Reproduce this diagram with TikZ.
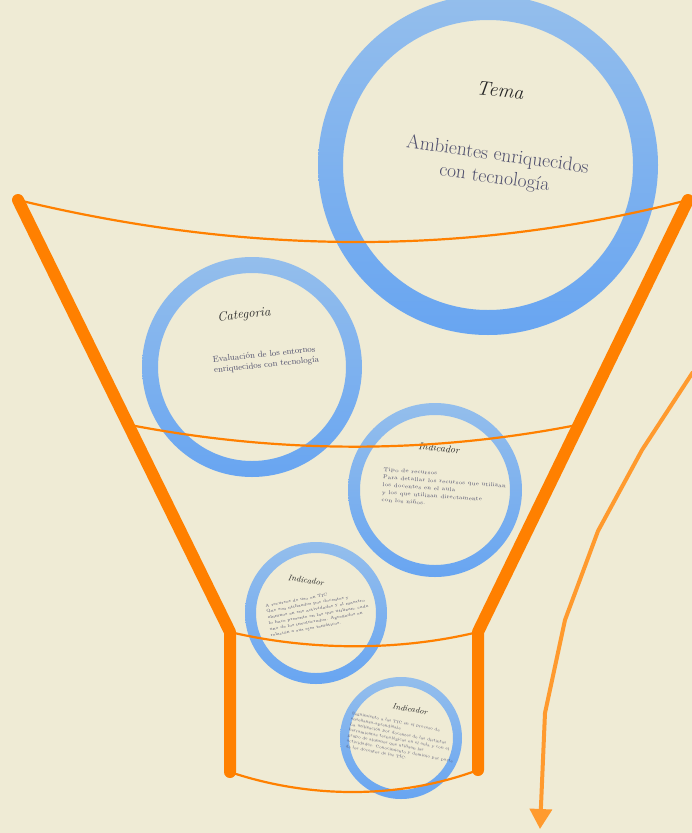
\documentclass[tikz,border=0pt]{standalone}
\usepackage{fontspec}
\usepackage{tikz}
\usetikzlibrary{calc,arrows.meta}

\definecolor{paper}{RGB}{239,235,213}
\definecolor{funnel}{RGB}{255,128,0}
\definecolor{arrowor}{RGB}{255,154,46}
\definecolor{ringtop}{RGB}{148,190,236}
\definecolor{ringbot}{RGB}{104,165,241}
\definecolor{ink}{RGB}{80,80,110}

\tikzset{
  thick funnel/.style={draw=funnel, line width=12pt, line cap=round, line join=round},
  rim/.style={draw=funnel, line width=2.2pt},
  ring/.style={top color=ringtop, bottom color=ringbot, even odd rule},
  head/.style={font=\itshape, text=black!85},
  body/.style={text=ink, align=left, inner sep=0pt}
}

\begin{document}
\begin{tikzpicture}[x=1pt,y=-1pt]
\useasboundingbox (0,0) rectangle (692,833);
\fill[paper] (0,0) rectangle (692,833);

% circles
\coordinate (tema) at (488,165);
\coordinate (cat) at (252,367);
\coordinate (ind1) at (435,490);
\coordinate (ind2) at (316,613);
\coordinate (ind3) at (401,738);
\shade[ring] (tema) circle (170) circle (145);
\shade[ring] (cat) circle (110) circle (94);
\shade[ring] (ind1) circle (87) circle (75);
\shade[ring] (ind2) circle (71) circle (60);
\shade[ring] (ind3) circle (61) circle (52);

% texts
\node[head, font=\itshape\fontsize{20}{24}\selectfont, rotate=-6] (temah) at (500,90) {Tema};
\node[body, align=center, font=\fontsize{19.5}{23}\selectfont, rotate=-8] (temab) at (496,167)
  {Ambientes enriquecidos\\con tecnología};

\node[head, font=\itshape\fontsize{13}{15}\selectfont, rotate=6] (cath) at (244,315) {Categoria};
\node[body, font=\fontsize{8.6}{10.5}\selectfont, rotate=6] (catb) at (266,360)
  {Evaluación de los entornos\\enriquecidos con tecnología};

\node[head, font=\itshape\fontsize{10}{12}\selectfont, rotate=-6] (ind1h) at (439,448) {Indicador};
\node[body, font=\fontsize{5.4}{7.6}\selectfont, rotate=-4] (ind1b) at (444,489)
  {Tipo de recursos\\Para detallar los recursos que utilizan\\los docentes en el aula\\y los que utilizan directamente\\con los niños.};

\node[head, font=\itshape\fontsize{8.5}{10}\selectfont, rotate=-9] (ind2h) at (306,580) {Indicador};
\node[body, font=\fontsize{4.1}{6}\selectfont, rotate=10] (ind2b) at (318,612)
  {A recursos de uso en TIC\\Que son utilizados por docentes y\\alumnos en sus actividades y el maestro\\lo hace presente en las que utilizan, cada\\uno de los involucrados. Agregados en\\relación a sus ejes temáticos.};

\node[head, font=\itshape\fontsize{8}{10}\selectfont, rotate=-10] (ind3h) at (410,709) {Indicador};
\node[body, font=\fontsize{3.8}{5.6}\selectfont, rotate=-11] (ind3b) at (402,740)
  {Seguimiento a las TIC en el proceso de\\enseñanza-aprendizaje\\La utilización por docentes de las distintas\\herramientas tecnológicas en el aula y con el\\grupo de alumnos que utilizan las\\actividades. Conocimiento y dominio por parte\\de los docentes de las TIC.};

% funnel
\coordinate (topL) at (18,200);
\coordinate (topR) at (688,200);
\coordinate (neckL) at (230,632);
\coordinate (neckR) at (478,632);
\coordinate (baseL) at (230,772);
\coordinate (baseR) at (478,770);
\coordinate (midL) at ($(topL)!0.52!(neckL)$);
\coordinate (midR) at ($(topR)!0.52!(neckR)$);

\draw[rim] (topL) .. controls (250,256) and (470,256) .. (topR);
\draw[rim] (midL) .. controls (280,454) and (430,454) .. (midR);
\draw[rim] (neckL) .. controls (310,651) and (400,651) .. (neckR);
\draw[rim] (baseL) .. controls (310,799) and (400,799) .. (baseR);

\draw[thick funnel] (topL) -- (neckL) -- (baseL);
\draw[thick funnel] (topR) -- (neckR) -- (baseR);

% arrow
\coordinate (arrS) at (693,372);
\coordinate (arrE) at (540,829);
\draw[arrowor, line width=4pt, line join=round, -{Triangle[width=22pt,length=20pt]}]
  (arrS) -- (642,450) -- (598,531) -- (565,620) -- (545,713) -- (arrE);
\end{tikzpicture}
\end{document}
